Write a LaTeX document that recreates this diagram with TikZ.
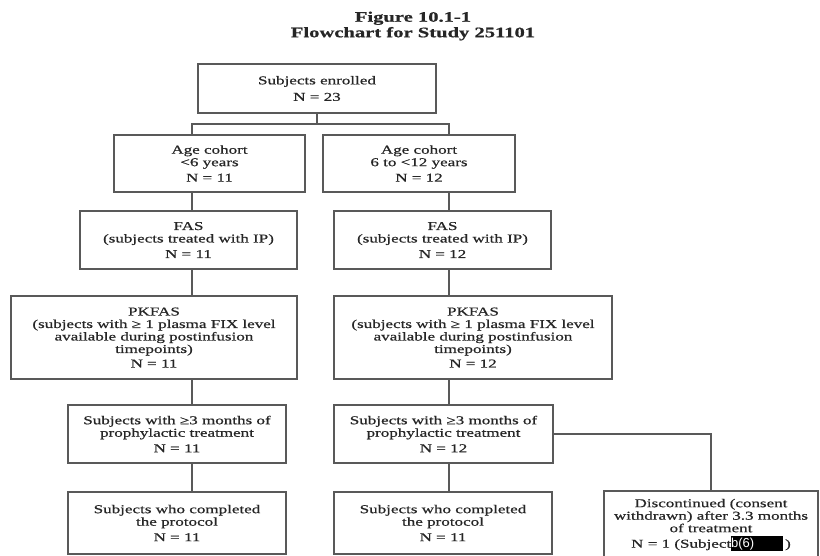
\documentclass[tikz,border=0pt]{standalone}
\usepackage{fontspec}
\setmainfont[FakeStretch=1.42, FakeBold=0.7]{Liberation Serif}
\newfontfamily\redactfont{Liberation Sans}
\usepackage{xcolor}
\usepackage{tikz}

\begin{document}
\begin{tikzpicture}[x=1pt, y=-1pt]
        \tikzset{
            box/.style={draw=black!65, shape = rectangle, line width=1.1pt, align=center, inner sep=0pt,
                        text=black!85, font=\fontsize{12}{12.5}\selectfont},
            heading/.style={align=center, text=black!85, font=\bfseries\fontsize{14.5}{15.5}\selectfont},
            link/.style={draw=black!65, line width=1.1pt}
        }
        \useasboundingbox (0,0) rectangle (820,556);
        \node[heading] (title) at (413,26) {Figure 10.1-1\\Flowchart for Study 251101};
        \node[box, minimum width=238pt, minimum height=49pt] (enrolled) at (317,88.5) {Subjects enrolled\\[4pt]N = 23};
        \node[box, minimum width=191pt, minimum height=57pt] (cohortA) at (209.5,163.5) {Age cohort\\<6 years\\[3pt]N = 11};
        \node[box, minimum width=192pt, minimum height=57pt] (cohortB) at (419,163.5) {Age cohort\\6 to <12 years\\[3pt]N = 12};
        \node[box, minimum width=217pt, minimum height=58pt] (fasA) at (188.5,240) {FAS\\(subjects treated with IP)\\[3pt]N = 11};
        \node[box, minimum width=217pt, minimum height=58pt] (fasB) at (442.5,240) {FAS\\(subjects treated with IP)\\[3pt]N = 12};
        \node[box, minimum width=286pt, minimum height=83pt] (pkfasA) at (154,337.5) {PKFAS\\(subjects with ≥ 1 plasma FIX level\\available during postinfusion\\timepoints)\\[2pt]N = 11};
        \node[box, minimum width=278pt, minimum height=83pt] (pkfasB) at (473,337.5) {PKFAS\\(subjects with ≥ 1 plasma FIX level\\available during postinfusion\\timepoints)\\[2pt]N = 12};
        \node[box, minimum width=218pt, minimum height=58pt] (monthsA) at (177,434) {Subjects with ≥3 months of\\prophylactic treatment\\[3pt]N = 11};
        \node[box, minimum width=219pt, minimum height=58pt] (monthsB) at (443.5,434) {Subjects with ≥3 months of\\prophylactic treatment\\[3pt]N = 12};
        \node[box, minimum width=218pt, minimum height=62pt] (doneA) at (177,523) {Subjects who completed\\the protocol\\[3pt]N = 11};
        \node[box, minimum width=218pt, minimum height=62pt] (doneB) at (443,523) {Subjects who completed\\the protocol\\[3pt]N = 11};
        \node[box, minimum width=214pt, minimum height=68pt] (disc) at (711,525) {Discontinued (consent\\withdrawn) after 3.3 months\\of treatment\\[3pt]N = 1 (Subject{\setlength{\fboxsep}{0pt}\colorbox{black}{\makebox[52pt][l]{\rule[-3.5pt]{0pt}{15pt}\redactfont\fontsize{13}{13}\selectfont\color{white}b(6)}}}\,)};
        \coordinate (colA) at (192,0);
        \coordinate (colB) at (449,0);
        \coordinate (split) at (317,124);
        \path[link] (enrolled.south) -- (split);
        \path[link] (cohortA.north -| colA) |- (split) -| (cohortB.north -| colB);
        \path[link] (cohortA.south -| colA) -- (fasA.north -| colA);
        \path[link] (fasA.south -| colA) -- (pkfasA.north -| colA);
        \path[link] (pkfasA.south -| colA) -- (monthsA.north -| colA);
        \path[link] (monthsA.south -| colA) -- (doneA.north -| colA);
        \path[link] (cohortB.south -| colB) -- (fasB.north -| colB);
        \path[link] (fasB.south -| colB) -- (pkfasB.north -| colB);
        \path[link] (pkfasB.south -| colB) -- (monthsB.north -| colB);
        \path[link] (monthsB.south -| colB) -- (doneB.north -| colB);
        \path[link] (monthsB.east) -| (disc.north);
    \end{tikzpicture}
\end{document}
